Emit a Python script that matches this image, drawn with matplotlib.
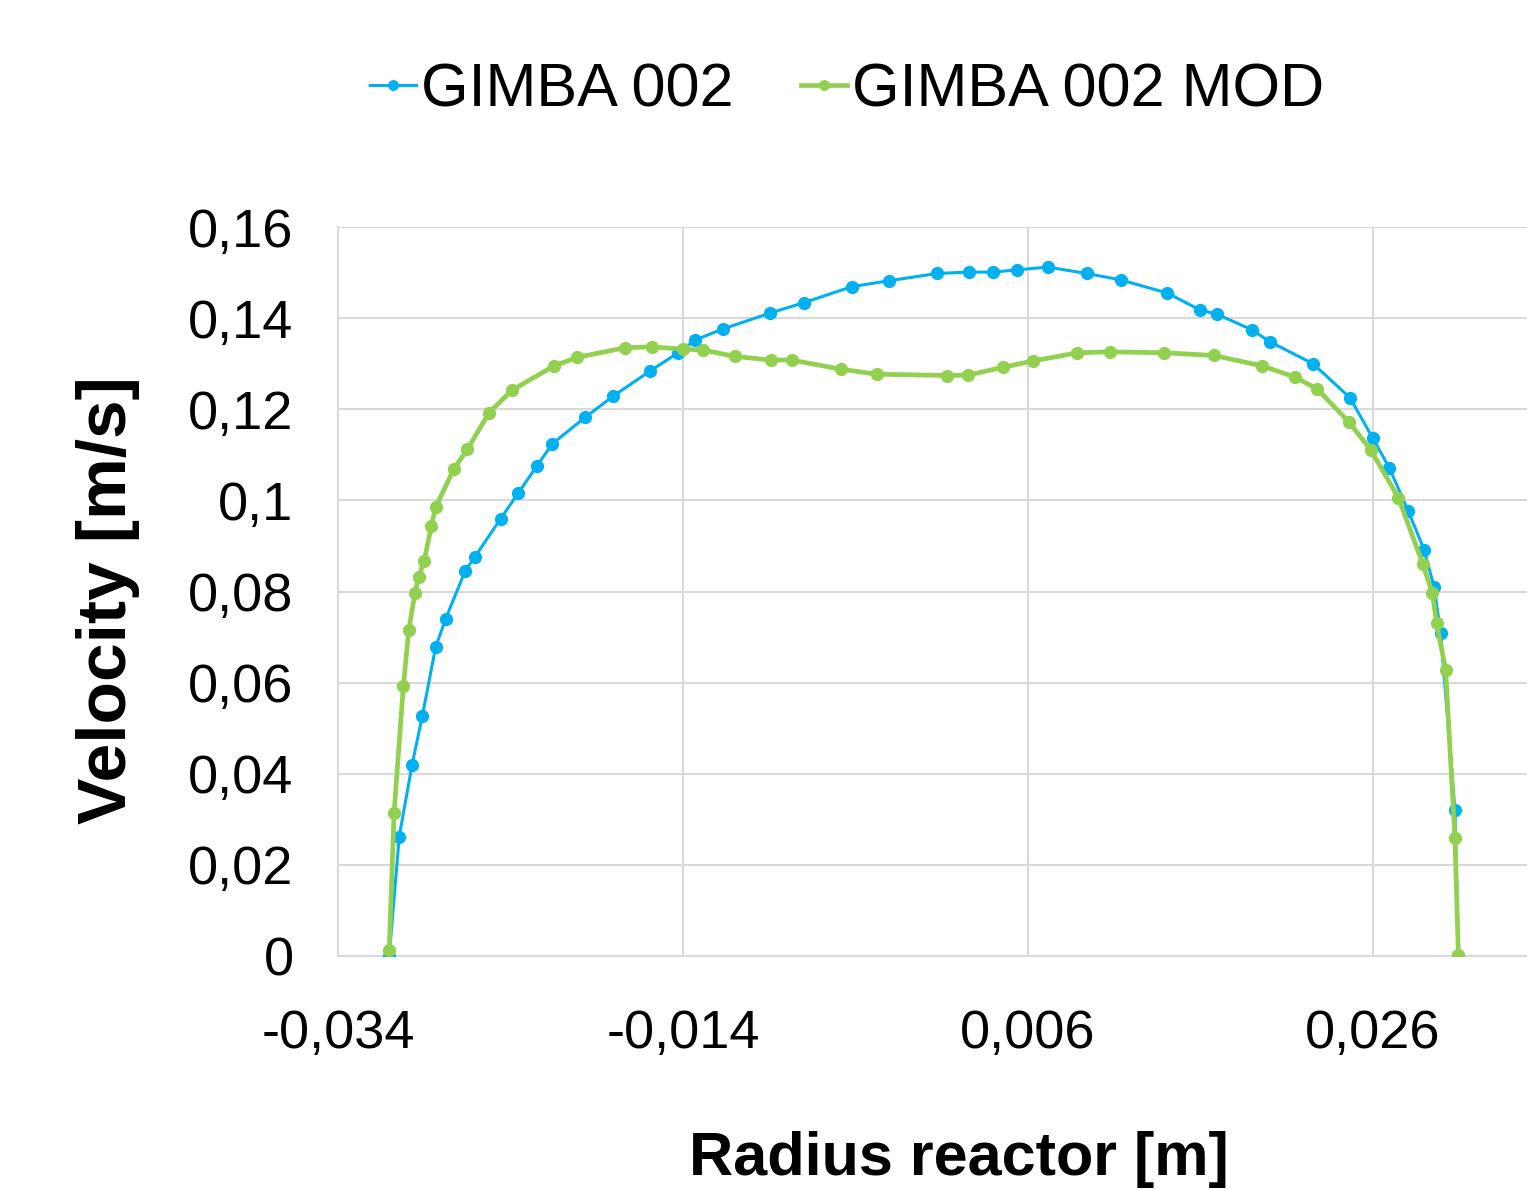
import matplotlib
matplotlib.use("Agg")
import matplotlib.pyplot as plt
from matplotlib.ticker import FixedLocator, FuncFormatter

# GIMBA 002 profile
r_gimba = [-0.03103, -0.03045, -0.02971, -0.02911, -0.02834, -0.02776, -0.02662,
           -0.02608, -0.02457, -0.02355, -0.02248, -0.02158, -0.01968, -0.01804,
           -0.01591, -0.01427, -0.01330, -0.01170, -0.00896, -0.00699, -0.00422,
           -0.00206, 0.00073, 0.00258, 0.00399, 0.00538, 0.00714, 0.00940,
           0.01137, 0.01408, 0.01597, 0.01694, 0.01900, 0.02003, 0.02252,
           0.02467, 0.02598, 0.02695, 0.02805, 0.02896, 0.02954, 0.02992,
           0.03075, 0.03095]
v_gimba = [0.0, 0.0262, 0.0419, 0.0527, 0.0678, 0.0740, 0.0846,
           0.0875, 0.0960, 0.1016, 0.1075, 0.1124, 0.1182, 0.1229,
           0.1284, 0.1324, 0.1352, 0.1376, 0.1411, 0.1434, 0.1469,
           0.1482, 0.1498, 0.1501, 0.1501, 0.1506, 0.1512, 0.1498,
           0.1484, 0.1455, 0.1418, 0.1409, 0.1374, 0.1348, 0.1300,
           0.1225, 0.1137, 0.1071, 0.0976, 0.0892, 0.0810, 0.0710,
           0.0321, 0.0]

# GIMBA 002 MOD profile
r_mod = [-0.03103, -0.03075, -0.03021, -0.02990, -0.02954, -0.02932, -0.02900,
         -0.02859, -0.02834, -0.02728, -0.02650, -0.02525, -0.02391, -0.02148,
         -0.02013, -0.01736, -0.01581, -0.01402, -0.01282, -0.01099, -0.00890,
         -0.00771, -0.00486, -0.00278, 0.00133, 0.00254, 0.00453, 0.00631,
         0.00886, 0.01075, 0.01388, 0.01678, 0.01959, 0.02145, 0.02275,
         0.02463, 0.02588, 0.02747, 0.02888, 0.02944, 0.02969, 0.03021,
         0.03075, 0.03095]
v_mod = [0.0014, 0.0314, 0.0593, 0.0715, 0.0796, 0.0832, 0.0868,
         0.0943, 0.0985, 0.1069, 0.1112, 0.1192, 0.1242, 0.1295,
         0.1314, 0.1335, 0.1337, 0.1332, 0.1330, 0.1316, 0.1308,
         0.1308, 0.1288, 0.1277, 0.1274, 0.1275, 0.1292, 0.1306,
         0.1324, 0.1326, 0.1324, 0.1318, 0.1295, 0.1271, 0.1245,
         0.1171, 0.1110, 0.1006, 0.0861, 0.0797, 0.0730, 0.0628,
         0.0258, 0.0003]

x_ticks = [-0.034, -0.014, 0.006, 0.026, 0.046]
y_ticks = [0, 0.02, 0.04, 0.06, 0.08, 0.10, 0.12, 0.14, 0.16]

BLUE = "#00B0F0"
GREEN = "#92D050"
GRID = "#d9d9d9"

plt.rcParams["font.family"] = ["Liberation Sans", "DejaVu Sans"]

fig = plt.figure(figsize=(15.27, 11.89), dpi=100)
ax = fig.add_axes([338 / 1527, (1189 - 956) / 1189, 1189 / 1527, 729 / 1189])

ax.plot(r_gimba, v_gimba, color=BLUE, lw=2.2, marker="o", ms=8.5,
        label="GIMBA 002", zorder=3)
ax.plot(r_mod, v_mod, color=GREEN, lw=3.4, marker="o", ms=8.5,
        label="GIMBA 002 MOD", zorder=4)

ax.set_xlim(-0.034, -0.034 + 1189 / 17250)
ax.set_ylim(0, 0.16)
ax.xaxis.set_major_locator(FixedLocator(x_ticks))
ax.yaxis.set_major_locator(FixedLocator(y_ticks))


def comma_fmt(v, pos):
    return ("%g" % round(v, 3)).replace(".", ",")


ax.xaxis.set_major_formatter(FuncFormatter(comma_fmt))
ax.yaxis.set_major_formatter(FuncFormatter(comma_fmt))

ax.grid(True, color=GRID, lw=1.5, zorder=0)
ax.set_axisbelow(True)
for side in ["top", "right"]:
    ax.spines[side].set_visible(False)
for side in ["left", "bottom"]:
    ax.spines[side].set_color(GRID)
    ax.spines[side].set_linewidth(1.5)

ax.tick_params(axis="both", length=0, labelsize=39)
ax.tick_params(axis="y", pad=32)
ax.tick_params(axis="x", pad=38)

ax.set_ylabel("Velocity [m/s]", fontsize=50, fontweight="bold",
              ha="center", va="center")
ax.yaxis.set_label_coords(-0.1934, 0.488)
ax.set_xlabel("Radius reactor [m]", fontsize=44, fontweight="bold",
              va="baseline")
ax.xaxis.set_label_coords(0.5219, -0.3)

fig.legend(loc="center", bbox_to_anchor=(847 / 1527, 1 - 91 / 1189), ncol=2,
           frameon=False, fontsize=44, handlelength=0.75, handletextpad=0.08,
           columnspacing=1.1, markerscale=0.8)

fig.savefig("out.png", dpi=100)
